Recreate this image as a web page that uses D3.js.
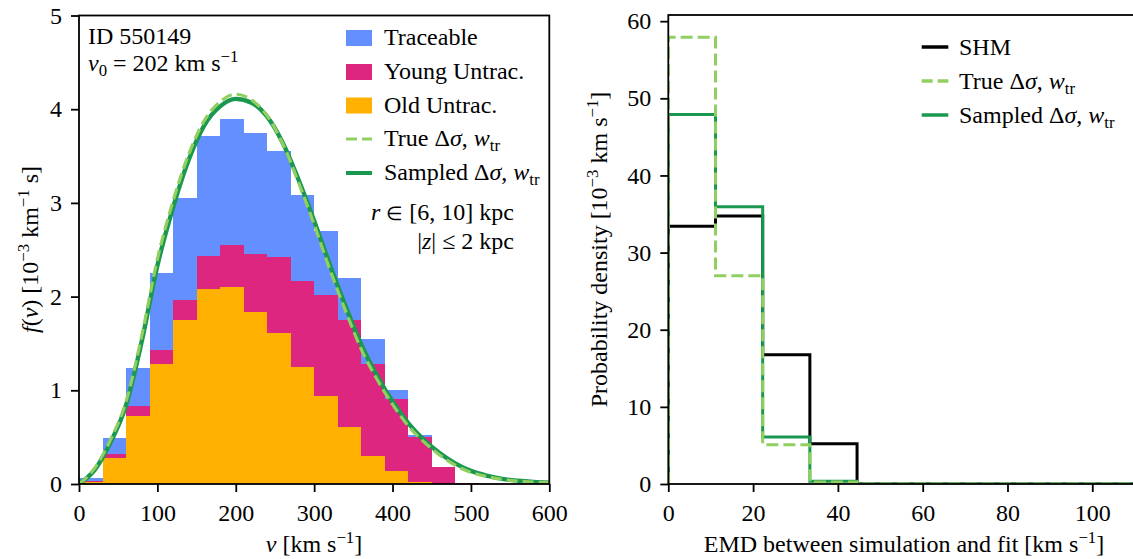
<!DOCTYPE html>
<html>
<head>
<meta charset="utf-8">
<script src="https://cdn.jsdelivr.net/npm/d3@7"></script>
<style>
  html, body { margin: 0; padding: 0; background: #fff; }
  svg { display: block; }
  svg text { font-family: "Liberation Serif", "Times New Roman", serif; }
</style>
</head>
<body>
<svg id="chart" width="1133" height="559"></svg>
<script>
// ---- velocity distribution (left panel) ----
const vBinStarts   = [0, 30, 60, 90, 120, 150, 180, 210, 240, 270, 300, 330, 360, 390, 420, 450, 480];
const vBinWidth    = 30;
const oldUntrac    = [0.025, 0.278, 0.723, 1.279, 1.749, 2.077, 2.102, 1.838, 1.614, 1.250, 0.940, 0.612, 0.302, 0.135, 0.017, 0, 0];
const youngUntrac  = [0.010, 0.042, 0.107, 0.153, 0.210, 0.356, 0.452, 0.613, 0.805, 0.912, 1.076, 1.133, 0.980, 0.773, 0.481, 0.178, 0.014];
const traceable    = [0.025, 0.168, 0.406, 0.823, 1.094, 1.279, 1.340, 1.300, 1.136, 0.927, 0.681, 0.453, 0.268, 0.096, 0.025, 0, 0];

const vGrid        = [0, 20, 40, 60, 80, 100, 120, 140, 160, 180, 200, 220, 240, 260, 280, 300,
                      320, 340, 360, 380, 400, 420, 440, 460, 480, 500, 520, 540, 560, 580, 600];
const fTrue        = [0.00, 0.17, 0.47, 0.88, 1.58, 2.40, 3.02, 3.52, 3.88, 4.08, 4.16, 4.10, 3.93, 3.63, 3.22, 2.77,
                      2.29, 1.85, 1.44, 1.12, 0.85, 0.62, 0.45, 0.31, 0.20, 0.125, 0.08, 0.05, 0.032, 0.02, 0.013];
const fSampled     = [0.00, 0.15, 0.44, 0.84, 1.52, 2.33, 2.95, 3.46, 3.83, 4.03, 4.11, 4.07, 3.92, 3.64, 3.25, 2.81,
                      2.34, 1.90, 1.49, 1.16, 0.88, 0.65, 0.47, 0.33, 0.22, 0.14, 0.09, 0.055, 0.035, 0.022, 0.014];

const vTicks       = [0, 100, 200, 300, 400, 500, 600];
const fTicks       = [0, 1, 2, 3, 4, 5];

// ---- EMD histograms (right panel) ----
const emdEdges     = [0, 11.13, 22.26, 33.39, 44.52, 55.65, 66.78, 77.91, 89.04, 100.17, 111.3];
const shmDensity   = [33.4, 34.75, 16.75, 5.22, 0, 0, 0, 0, 0, 0];
const trueDensity  = [57.9, 27.0, 5.1, 0.25, 0, 0, 0, 0, 0, 0];
const sampDensity  = [47.9, 35.95, 6.1, 0.35, 0, 0, 0, 0, 0, 0];

const emdTicks     = [0, 20, 40, 60, 80, 100];
const densTicks    = [0, 10, 20, 30, 40, 50, 60];

// ---- styling ----
const C = {
  trace: "#648fff", young: "#dc267f", old: "#ffb000",
  light: "#91cf60", dark: "#1a9850", black: "#000"
};
const FS = 24;
const FONT = "'Liberation Serif', 'Times New Roman', serif";
const svg = d3.select("#chart");

// rich text helper: segments {t, it, sub, sup, size}
function rich(sel, segs) {
  let off = 0;
  segs.forEach(s => {
    const ts = sel.append("tspan").text(s.t);
    if (s.it) ts.attr("font-style", "italic");
    if (s.size) ts.attr("font-size", s.size);
    let target = 0;
    if (s.sub) { ts.attr("font-size", FS * 0.7); target = 5; }
    if (s.sup) { ts.attr("font-size", FS * 0.7); target = -9.5; }
    if (target !== off) { ts.attr("dy", target - off); off = target; }
  });
  return sel;
}

// ---- scales ----
const xL = d3.scaleLinear().domain([0, 600]).range([79, 549.3]);
const yL = d3.scaleLinear().domain([0, 5]).range([484, 15.5]);
const xR = d3.scaleLinear().domain([0, 111.3]).range([668.3, 1140.2]);
const yR = d3.scaleLinear().domain([0, 60.8]).range([484, 15]);

const defs = svg.append("defs");
defs.append("clipPath").attr("id", "clipL").append("rect")
  .attr("x", xL(0)).attr("y", yL(5)).attr("width", xL(600) - xL(0)).attr("height", yL(0) - yL(5));
defs.append("clipPath").attr("id", "clipR").append("rect")
  .attr("x", xR(0)).attr("y", yR(60.8)).attr("width", xR(111.3) - xR(0)).attr("height", yR(0) - yR(60.8));

// ================= LEFT PANEL =================
const gL = svg.append("g");
const rows = vBinStarts.map((v, i) => ({ v, old: oldUntrac[i], young: youngUntrac[i], trace: traceable[i] }));
const stacked = d3.stack().keys(["old", "young", "trace"])(rows);
const barG = gL.append("g").attr("clip-path", "url(#clipL)");
stacked.forEach(layer => {
  barG.append("g").attr("fill", C[layer.key])
    .selectAll("rect").data(layer).join("rect")
    .attr("x", d => xL(d.data.v))
    .attr("width", d => xL(d.data.v + vBinWidth) - xL(d.data.v))
    .attr("y", d => yL(d[1]))
    .attr("height", d => Math.max(0, yL(d[0]) - yL(d[1])))
    .attr("shape-rendering", "crispEdges");
});

const curveLine = d3.line().x(d => xL(d[0])).y(d => yL(d[1])).curve(d3.curveMonotoneX);
barG.append("path").datum(vGrid.map((v, i) => [v, fSampled[i]]))
  .attr("d", curveLine).attr("fill", "none").attr("stroke", C.dark).attr("stroke-width", 4.4);
barG.append("path").datum(vGrid.map((v, i) => [v, fTrue[i]]))
  .attr("d", curveLine).attr("fill", "none").attr("stroke", C.light).attr("stroke-width", 3.2)
  .attr("stroke-dasharray", "11,5");

// axes
function styleAxis(g) {
  g.attr("font-family", FONT);
  g.select(".domain").remove();
  g.selectAll(".tick line").attr("stroke", "#000").attr("stroke-width", 1.8);
  g.selectAll(".tick text").attr("font-size", FS).attr("fill", "#000").attr("font-family", FONT);
}
gL.append("g").attr("transform", `translate(0,${yL(0)})`)
  .call(d3.axisBottom(xL).tickValues(vTicks).tickSize(8).tickPadding(12).tickFormat(d3.format("d")))
  .call(styleAxis);
gL.append("g").attr("transform", `translate(${xL(0)},0)`)
  .call(d3.axisLeft(yL).tickValues(fTicks).tickSize(8).tickPadding(9).tickFormat(d3.format("d")))
  .call(styleAxis);
gL.append("rect").attr("x", xL(0)).attr("y", yL(5)).attr("width", xL(600) - xL(0)).attr("height", yL(0) - yL(5))
  .attr("fill", "none").attr("stroke", "#000").attr("stroke-width", 1.8);

// labels
rich(gL.append("text").attr("x", 314).attr("y", 552).attr("text-anchor", "middle").attr("font-size", FS),
  [{ t: "v", it: true }, { t: " [km s" }, { t: "−1", sup: true }, { t: "]" }]);
rich(gL.append("text").attr("transform", "translate(38,249.5) rotate(-90)").attr("text-anchor", "middle").attr("font-size", FS),
  [{ t: "f", it: true }, { t: "(" }, { t: "v", it: true }, { t: ") [10" }, { t: "−3", sup: true },
   { t: " km" }, { t: "−1", sup: true }, { t: " s]" }]);

gL.append("text").attr("x", 88).attr("y", 43.5).attr("font-size", FS).text("ID 550149");
rich(gL.append("text").attr("x", 88).attr("y", 71).attr("font-size", FS),
  [{ t: "v", it: true }, { t: "0", sub: true }, { t: " = 202 km s" }, { t: "−1", sup: true }]);

// left legend
const legL = gL.append("g");
const legRowsL = [
  { kind: "patch", color: C.trace, segs: [{ t: "Traceable" }] },
  { kind: "patch", color: C.young, segs: [{ t: "Young Untrac." }] },
  { kind: "patch", color: C.old, segs: [{ t: "Old Untrac." }] },
  { kind: "dash", color: C.light, segs: [{ t: "True Δ" }, { t: "σ", it: true }, { t: ", " }, { t: "w", it: true }, { t: "tr", sub: true }] },
  { kind: "line", color: C.dark, segs: [{ t: "Sampled Δ" }, { t: "σ", it: true }, { t: ", " }, { t: "w", it: true }, { t: "tr", sub: true }] }
];
const legBaseL = [45, 79, 112.5, 146, 180];
legRowsL.forEach((r, i) => {
  const b = legBaseL[i], c = b - 7;
  if (r.kind === "patch") {
    legL.append("rect").attr("x", 346).attr("y", c - 8).attr("width", 26).attr("height", 16).attr("fill", r.color);
  } else {
    legL.append("line").attr("x1", 346).attr("x2", 372).attr("y1", c).attr("y2", c)
      .attr("stroke", r.color).attr("stroke-width", r.kind === "dash" ? 3.2 : 4)
      .attr("stroke-dasharray", r.kind === "dash" ? "11,5" : null);
  }
  rich(legL.append("text").attr("x", 384).attr("y", b).attr("font-size", FS), r.segs);
});
rich(gL.append("text").attr("x", 514).attr("y", 220).attr("text-anchor", "end").attr("font-size", FS),
  [{ t: "r", it: true }, { t: " " }, { t: "∈", size: 19 }, { t: " [6, 10] kpc" }]);
rich(gL.append("text").attr("x", 514).attr("y", 249).attr("text-anchor", "end").attr("font-size", FS),
  [{ t: "|" }, { t: "z", it: true }, { t: "| ≤ 2 kpc" }]);

// ================= RIGHT PANEL =================
const gR = svg.append("g");
function stepPoints(edges, vals) {
  const pts = [[edges[0], 0]];
  vals.forEach((h, i) => { pts.push([edges[i], h]); pts.push([edges[i + 1], h]); });
  pts.push([edges[edges.length - 1], 0]);
  return pts;
}
const stepLine = d3.line().x(d => xR(d[0])).y(d => yR(d[1]));
const histG = gR.append("g").attr("clip-path", "url(#clipR)");
histG.append("path").datum(stepPoints(emdEdges, shmDensity)).attr("d", stepLine)
  .attr("fill", "none").attr("stroke", C.black).attr("stroke-width", 3);
histG.append("path").datum(stepPoints(emdEdges, sampDensity)).attr("d", stepLine)
  .attr("fill", "none").attr("stroke", C.dark).attr("stroke-width", 3);
histG.append("path").datum(stepPoints(emdEdges, trueDensity)).attr("d", stepLine)
  .attr("fill", "none").attr("stroke", C.light).attr("stroke-width", 3).attr("stroke-dasharray", "12,5");

gR.append("g").attr("transform", `translate(0,${yR(0)})`)
  .call(d3.axisBottom(xR).tickValues(emdTicks).tickSize(8).tickPadding(12).tickFormat(d3.format("d")))
  .call(styleAxis);
gR.append("g").attr("transform", `translate(${xR(0)},0)`)
  .call(d3.axisLeft(yR).tickValues(densTicks).tickSize(8).tickPadding(9).tickFormat(d3.format("d")))
  .call(styleAxis);
gR.append("rect").attr("x", xR(0)).attr("y", yR(60.8)).attr("width", xR(111.3) - xR(0)).attr("height", yR(0) - yR(60.8))
  .attr("fill", "none").attr("stroke", "#000").attr("stroke-width", 1.8);

rich(gR.append("text").attr("x", 904).attr("y", 552).attr("text-anchor", "middle").attr("font-size", FS),
  [{ t: "EMD between simulation and fit [km s" }, { t: "−1", sup: true }, { t: "]" }]);
rich(gR.append("text").attr("transform", "translate(607,249.5) rotate(-90)").attr("text-anchor", "middle").attr("font-size", FS),
  [{ t: "Probability density [10" }, { t: "−3", sup: true }, { t: " km s" }, { t: "−1", sup: true }, { t: "]" }]);

// right legend
const legR = gR.append("g");
const legRowsR = [
  { kind: "line", color: C.black, segs: [{ t: "SHM" }] },
  { kind: "dash", color: C.light, segs: [{ t: "True  Δ" }, { t: "σ", it: true }, { t: ", " }, { t: "w", it: true }, { t: "tr", sub: true }] },
  { kind: "line", color: C.dark, segs: [{ t: "Sampled Δ" }, { t: "σ", it: true }, { t: ", " }, { t: "w", it: true }, { t: "tr", sub: true }] }
];
const legBaseR = [54.5, 88.5, 122.5];
legRowsR.forEach((r, i) => {
  const b = legBaseR[i], c = b - 7.5;
  legR.append("line").attr("x1", 921.7).attr("x2", 948.3).attr("y1", c).attr("y2", c)
    .attr("stroke", r.color).attr("stroke-width", 3.5)
    .attr("stroke-dasharray", r.kind === "dash" ? "11,5" : null);
  rich(legR.append("text").attr("x", 959).attr("y", b).attr("font-size", FS), r.segs);
});
</script>
</body>
</html>
